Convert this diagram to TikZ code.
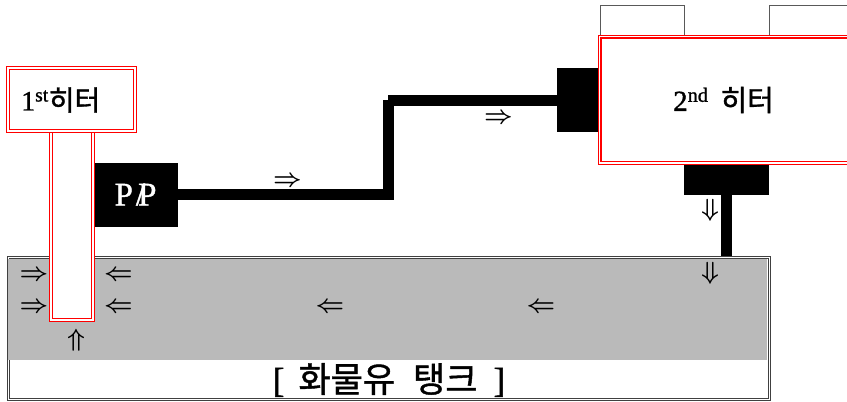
\documentclass[tikz,border=0pt]{standalone}
\usepackage{fontspec}
\usepackage{amsmath}
\setmainfont{Liberation Serif}[FakeBold=1.2]
\newfontfamily\korfont{Noto Sans CJK KR}[FakeBold=1.2]
\usetikzlibrary{positioning}
\definecolor{tankgray}{HTML}{BABABA}
\def\flowsize{\fontsize{24.88}{30}\selectfont\boldmath}
\tikzset{
    heater/.style={draw=red, double=white, double distance=1.9pt, line width=1.05pt, inner sep=0pt, outer sep=0pt},
    blackblock/.style={fill=black, inner sep=0pt, outer sep=0pt},
    topbox/.style={draw=black!65, line width=0.8pt, inner sep=0pt, outer sep=0pt},
    pipe/.style={line width=11pt, line cap=butt, black},
    flowmark/.style={inner sep=0pt, font=\flowsize},
    label/.style={inner sep=0pt, font=\fontsize{29}{32}\selectfont}
}

\begin{document}
\begin{tikzpicture}[x=1pt, y=-1pt]
        \useasboundingbox (0,0) rectangle (847,402);

        % tank
        \node[draw=black!75, double=white, double distance=1.8pt, line width=0.9pt, inner sep=0pt, minimum width=761pt, minimum height=142pt] (tank) at (389,328.5) {};
        \node[fill=tankgray, inner sep=0pt, minimum width=759pt, minimum height=101pt] (oil) at (387.5,309.5) {};
        \node[label, font=\fontsize{35}{38}\selectfont] (tanklabel) at (389,380) {[\kern14pt{\korfont 화물유\kern18pt 탱크}\kern16pt]};

        % top boxes
        \node[topbox, minimum width=84pt, minimum height=32pt] (topa) at (642,21) {};
        \node[topbox, minimum width=90pt, minimum height=32pt] (topb) at (814,21) {};

        % blocks
        \node[blackblock, minimum width=86pt, minimum height=64pt] (pump) at (135,194.7) {};
        \node[text=white, label, font=\fontsize{33}{36}\selectfont] (pumplabel) at (135.5,194.7) {P\kern3pt/\kern-7pt P};
        \node[blackblock, minimum width=43pt, minimum height=64pt] (inlet) at (578.5,100) {};
        \node[blackblock, minimum width=85pt, minimum height=32pt] (outlet) at (726.5,179) {};

        % pipes
        \coordinate (riselow) at (388.5,194.7);
        \coordinate (risehigh) at (388.5,100);
        \coordinate (runstart) at (388,100);
        \draw[pipe, line join=miter] (pump.east) -- (riselow) -- (risehigh);
        \draw[pipe] (runstart) -- (inlet.west);
        \coordinate (drop) at (726.5,256);
        \draw[pipe] (outlet.south -| drop) -- (drop);

        % heaters
        \node[heater, fill=white, minimum width=42pt, minimum height=190pt] (tube) at (71.7,225) {};
        \node[heater, fill=white, minimum width=127pt, minimum height=63.3pt] (firstheater) at (71.7,99.4) {};
        \node[label, font=\fontsize{28}{30}\selectfont, anchor=west] (firstlabel) at (21,100) {1\textsuperscript{st}\korfont 히터};
        \node[heater, fill=white, minimum width=260.5pt, minimum height=126.5pt] (secondheater) at (729.75,99.75) {};
        \node[label, anchor=west] (secondlabel) at (673,100) {2\textsuperscript{nd}\kern12pt{\korfont 히터}};

        % flow arrows
        \node[flowmark] (flowa) at (287.5,182) {$\Rightarrow$};
        \node[flowmark] (flowb) at (498.5,119) {$\Rightarrow$};
        \node[flowmark] (flowc) at (34,276) {$\Rightarrow$};
        \node[flowmark] (flowd) at (34,308) {$\Rightarrow$};
        \node[flowmark] (flowe) at (118.5,276) {$\Leftarrow$};
        \node[flowmark] (flowf) at (118.5,308) {$\Leftarrow$};
        \node[flowmark] (flowg) at (330,308) {$\Leftarrow$};
        \node[flowmark] (flowh) at (541,308) {$\Leftarrow$};
        \node[flowmark] (flowi) at (76,340) {$\Uparrow$};
        \node[flowmark] (flowj) at (710,210) {$\Downarrow$};
        \node[flowmark] (flowk) at (710,273.5) {$\Downarrow$};
\end{tikzpicture}
\end{document}
